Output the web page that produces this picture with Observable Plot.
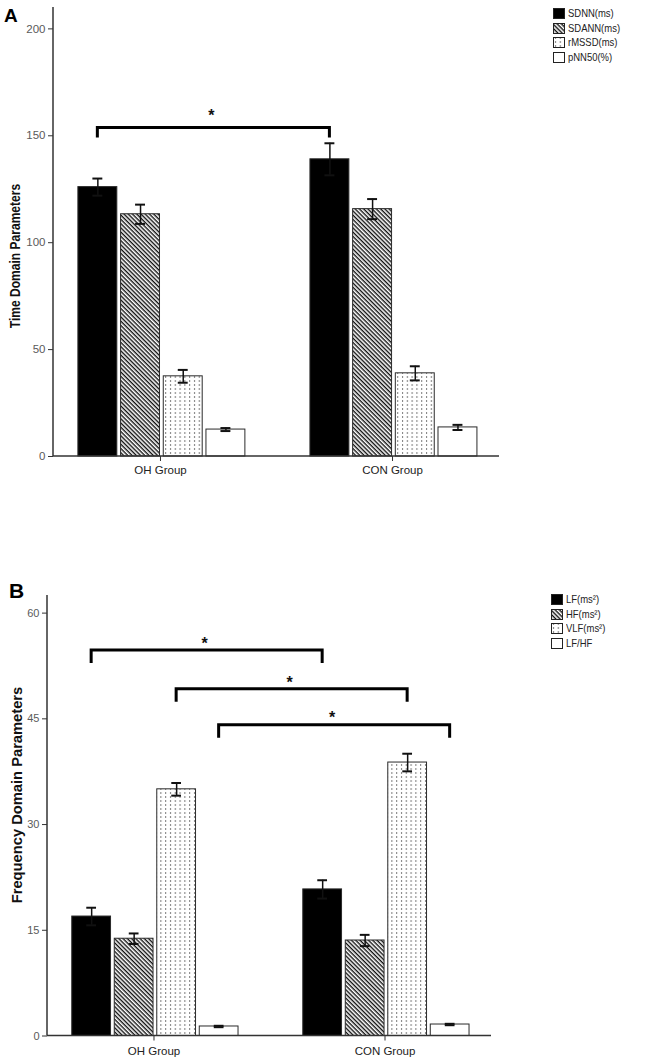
<!DOCTYPE html>
<html>
<head>
<meta charset="utf-8">
<script src="https://cdn.jsdelivr.net/npm/d3@7"></script>
<script src="https://cdn.jsdelivr.net/npm/@observablehq/plot@0.6"></script>
<style>
  body { margin: 0; background: #fff; font-family: "Liberation Sans", Arial, sans-serif; }
  #wrap { position: relative; width: 653px; height: 1059px; overflow: hidden; background: #fff; }
  .panel { position: absolute; left: 0; }
  .letter { position: absolute; font-weight: bold; color: #000; line-height: 1; }
  .ylab { position: absolute; font-weight: bold; white-space: nowrap; color: #111; line-height: 1; }
  .lg { position: absolute; font-size: 11px; color: #222; white-space: nowrap; line-height: 1; }
  .lg svg { position: absolute; left: 0; }
  .lg span { position: absolute; display: inline-block; transform: scaleX(0.86); transform-origin: left center; }
</style>
</head>
<body>
<svg width="0" height="0" style="position:absolute">
  <defs>
    <pattern id="pat-hatch" patternUnits="userSpaceOnUse" width="8" height="3" patternTransform="rotate(45)">
      <rect width="8" height="3" fill="#fff"></rect>
      <rect y="0" width="8" height="1.4" fill="#111"></rect>
    </pattern>
    <pattern id="pat-dots" patternUnits="userSpaceOnUse" width="4.8" height="4">
      <rect width="4.8" height="4" fill="#fff"></rect>
      <rect x="2" y="0" width="1" height="2" fill="#7a7a7a"></rect>
    </pattern>
  </defs>
</svg>
<div id="wrap"></div>
<script>
// ---------- data ----------
const groups = ["OH Group", "CON Group"];

// Panel A: time domain
const seriesA = ["SDNN(ms)", "SDANN(ms)", "rMSSD(ms)", "pNN50(%)"];
const meanA_OH = [126, 113.3, 37.5, 12.6];
const errA_OH = [4, 4.5, 3, 0.7];
const meanA_CON = [139, 115.7, 38.9, 13.6];
const errA_CON = [7.5, 4.7, 3.3, 1.2];
const ticksA = [0, 50, 100, 150, 200];
const bracketSeriesA = ["SDNN(ms)"];
const bracketLevelA = [153.6];

// Panel B: frequency domain
const seriesB = ["LF(ms²)", "HF(ms²)", "VLF(ms²)", "LF/HF"];
const meanB_OH = [16.95, 13.8, 35.0, 1.35];
const errB_OH = [1.25, 0.75, 0.9, 0.1];
const meanB_CON = [20.8, 13.55, 38.8, 1.63];
const errB_CON = [1.3, 0.8, 1.25, 0.1];
const ticksB = [0, 15, 30, 45, 60];
const bracketSeriesB = ["LF(ms²)", "VLF(ms²)", "LF/HF"];
const bracketLevelB = [54.7, 49.2, 44.1];

// ---------- helpers ----------
const patternFills = ["#000", "url(#pat-hatch)", "url(#pat-dots)", "#fff"];

function buildRows(series, means, errs) {
  const rows = [];
  groups.forEach((g, gi) => series.forEach((s, si) => rows.push({group: g, series: s, value: means[gi][si], err: errs[gi][si]})));
  return rows;
}

// Drawn once, inside the first facet, from the plot's own scales
function annotationMark(series, brackets, drop, starOffset, starSize) {
  return Plot.dot([{group: groups[0], series: series[0], value: 0}], {
    fx: "group", x: "series", y: "value",
    render: (index, scales, values, dims) => {
      const g = d3.create("svg:g");
      if (!index || !index.length) return g.node();
      const {x, y, fx} = scales;
      const off = fx(groups[0]) - dims.marginLeft;
      const cx = (grp, s) => fx(grp) - fx(groups[0]) + x(s) + x.bandwidth() / 2;
      const left = dims.marginLeft - off;
      const right = fx(groups[1]) + fx.bandwidth() - off;
      const yMax = y.domain()[1];
      g.append("line").attr("x1", left).attr("x2", left).attr("y1", y(yMax)).attr("y2", y(0))
        .attr("stroke", "#333").attr("stroke-width", 1.5);
      g.append("line").attr("x1", left).attr("x2", right).attr("y1", y(0)).attr("y2", y(0))
        .attr("stroke", "#333").attr("stroke-width", 1.5);
      for (const b of brackets) {
        const x1 = cx(groups[0], b.series), x2 = cx(groups[1], b.series), yy = y(b.level);
        g.append("path")
          .attr("d", `M${x1},${yy + drop}V${yy}H${x2}V${yy + drop}`)
          .attr("fill", "none").attr("stroke", "#000").attr("stroke-width", 3);
        g.append("text")
          .attr("x", (x1 + x2) / 2 - 2).attr("y", yy - starOffset).attr("dy", "0.55em")
          .attr("text-anchor", "middle").attr("font-weight", "bold").attr("font-size", starSize)
          .attr("fill", "#111").text("*");
      }
      return g.node();
    }
  });
}

function makePanel(cfg) {
  const rows = buildRows(cfg.series, cfg.means, cfg.errs);
  const fillOf = Object.fromEntries(cfg.series.map((s, i) => [s, patternFills[i]]));
  const brackets = cfg.bracketSeries.map((s, i) => ({series: s, level: cfg.bracketLevels[i]}));
  return Plot.plot({
    width: 653,
    height: cfg.height,
    marginLeft: cfg.marginLeft,
    marginRight: cfg.marginRight,
    marginTop: cfg.marginTop,
    marginBottom: cfg.marginBottom,
    style: {fontFamily: "Liberation Sans, Arial, sans-serif", fontSize: "11px", background: "transparent", overflow: "visible", color: "#333"},
    fx: {domain: groups, paddingInner: 0.078, paddingOuter: 0, round: false},
    x: {domain: cfg.series, paddingInner: 0.088, paddingOuter: 0.55, align: 0.53, round: false, axis: null},
    y: {domain: [0, cfg.yMax]},
    color: {type: "identity"},
    marks: [
      Plot.barY(rows, {fx: "group", x: "series", y: "value", fill: d => fillOf[d.series], stroke: "#2a2a2a", strokeWidth: 1}),
      Plot.ruleX(rows, {fx: "group", x: "series", y1: d => d.value - d.err, y2: d => d.value + d.err, stroke: "#111", strokeWidth: 1.5}),
      Plot.tickY(rows, {fx: "group", x: "series", y: d => d.value + d.err, stroke: "#111", strokeWidth: 2, insetLeft: 14.5, insetRight: 14.5}),
      Plot.tickY(rows, {fx: "group", x: "series", y: d => d.value - d.err, stroke: "#111", strokeWidth: 2, insetLeft: 14.5, insetRight: 14.5}),
      Plot.axisY({ticks: cfg.ticks, tickSize: 5, tickPadding: 3, label: null, stroke: "#333", fill: "#5a5a5a", fontSize: cfg.tickFont}),
      Plot.axisFx({anchor: "bottom", tickSize: 5, tickPadding: cfg.labelPad, label: null, stroke: "#333", fill: "#222", fontSize: 11.5}),
      annotationMark(cfg.series, brackets, cfg.drop, cfg.starOffset, cfg.starSize)
    ]
  });
}

function legend(wrap, series, left, top, step) {
  series.forEach((s, i) => {
    const row = document.createElement("div");
    row.className = "lg";
    row.style.left = left + "px";
    row.style.top = (top + i * step) + "px";
    row.innerHTML = `<svg width="12" height="11" style="top:0"><rect x="0.5" y="0.5" width="11" height="10" fill="${patternFills[i]}" stroke="#222" stroke-width="1"></rect></svg><span style="left:15px;top:0px">${s}</span>`;
    wrap.appendChild(row);
  });
}

// ---------- layout ----------
const wrap = document.getElementById("wrap");

const panelA = makePanel({
  series: seriesA, means: [meanA_OH, meanA_CON], errs: [errA_OH, errA_CON],
  bracketSeries: bracketSeriesA, bracketLevels: bracketLevelA,
  yMax: 210, ticks: ticksA, height: 480, marginLeft: 53, marginRight: 154, marginTop: 7, marginBottom: 24,
  labelPad: 4, drop: 10, starOffset: 15, starSize: 16, tickFont: 11.5
});
const divA = document.createElement("div");
divA.className = "panel"; divA.style.top = "0px";
divA.appendChild(panelA);
wrap.appendChild(divA);

const panelB = makePanel({
  series: seriesB, means: [meanB_OH, meanB_CON], errs: [errB_OH, errB_CON],
  bracketSeries: bracketSeriesB, bracketLevels: bracketLevelB,
  yMax: 62.5, ticks: ticksB, height: 499, marginLeft: 47, marginRight: 162, marginTop: 35, marginBottom: 23.5,
  labelPad: 6, drop: 13, starOffset: 10, starSize: 16, tickFont: 11
});
const divB = document.createElement("div");
divB.className = "panel"; divB.style.top = "560px";
divB.appendChild(panelB);
wrap.appendChild(divB);

// panel letters
const la = document.createElement("div");
la.className = "letter"; la.textContent = "A";
la.style.left = "4px"; la.style.top = "6px"; la.style.fontSize = "19px";
wrap.appendChild(la);
const lb = document.createElement("div");
lb.className = "letter"; lb.textContent = "B";
lb.style.left = "9px"; lb.style.top = "580px"; lb.style.fontSize = "21px";
wrap.appendChild(lb);

// y-axis titles
const ya = document.createElement("div");
ya.className = "ylab"; ya.textContent = "Time Domain Parameters";
ya.style.left = "15px"; ya.style.top = "256px"; ya.style.fontSize = "14px";
ya.style.transform = "translate(-50%,-50%) rotate(-90deg) scaleX(0.86)";
wrap.appendChild(ya);
const yb = document.createElement("div");
yb.className = "ylab"; yb.textContent = "Frequency Domain Parameters";
yb.style.left = "16px"; yb.style.top = "795px"; yb.style.fontSize = "15px";
yb.style.transform = "translate(-50%,-50%) rotate(-90deg) scaleX(0.98)";
wrap.appendChild(yb);

// legends
legend(wrap, seriesA, 553, 8, 14.7);
legend(wrap, seriesB, 551, 594, 14.7);
</script>
</body>
</html>
